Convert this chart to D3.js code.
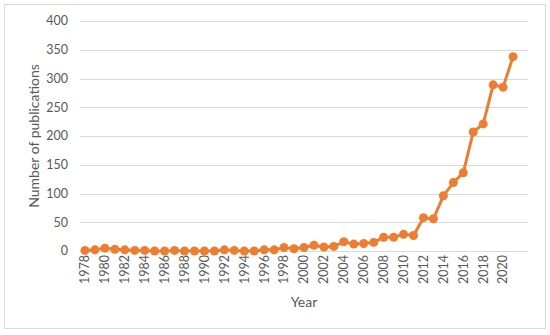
<!DOCTYPE html>
<html><head><meta charset="utf-8">
<script src="https://cdn.jsdelivr.net/npm/d3@7"></script>
<style>body{margin:0;background:#fff}svg{display:block}</style>
</head><body>
<script>
const years = d3.range(1978, 2023);
const values = [1,2,5,3,2,1,1,0,0,1,0,0,0,0,2,1,0,0,2,2,6,4,6,10,7,8,16,12,13,15,24,24,29,27,58,56,96,119,136,207,221,289,285,338,null];
const yTicks = [0,50,100,150,200,250,300,350,400];
const xLabelYears = years.filter(y => (y - 1978) % 2 === 0 && y <= 2020);

(function(){
const W = 550, H = 335;
const svg = d3.select("body").append("svg").attr("width", W).attr("height", H);
svg.append("rect").attr("x",4.5).attr("y",4.5).attr("width",541).attr("height",324)
  .attr("fill","#fff").attr("stroke","#d9d9d9");

const pLeft = 80, pRight = 528, pTop = 21, pBottom = 251;
const x = d3.scaleBand().domain(years).range([pLeft, pRight]);
const y = d3.scaleLinear().domain([0,400]).range([pBottom, pTop]);
const font = "Lato, 'Open Sans', sans-serif";

svg.append("g").selectAll("line").data(yTicks).join("line")
  .attr("x1", pLeft).attr("x2", pRight)
  .attr("y1", d => Math.round(y(d))+0.5).attr("y2", d => Math.round(y(d))+0.5)
  .attr("stroke","#d9d9d9").attr("stroke-width",1);

svg.append("g").selectAll("text").data(yTicks).join("text")
  .attr("x", 68).attr("y", d => y(d)).attr("dy","0.35em")
  .attr("text-anchor","end").attr("font-family",font).attr("font-size",12.5).attr("fill","#595959")
  .text(d => d);

svg.append("g").selectAll("text").data(xLabelYears).join("text")
  .attr("transform", d => `translate(${x(d)+x.bandwidth()/2},255) rotate(-90)`)
  .attr("dy","0.35em").attr("text-anchor","end")
  .attr("font-family",font).attr("font-size",12.5).attr("fill","#595959")
  .text(d => d);

svg.append("text").attr("x", 304).attr("y", 307).attr("text-anchor","middle")
  .attr("font-family",font).attr("font-size",14).attr("fill","#595959").text("Year");
svg.append("text").attr("transform",`translate(39,136) rotate(-90)`).attr("text-anchor","middle")
  .attr("font-family",font).attr("font-size",14).attr("fill","#595959").text("Number of publications");

const data = years.map((yr,i)=>({yr, v: values[i]})).filter(d => d.v !== null);
const line = d3.line().x(d => x(d.yr)+x.bandwidth()/2).y(d => y(d.v));
svg.append("path").datum(data).attr("d", line).attr("fill","none")
  .attr("stroke","#ED7D31").attr("stroke-width",3).attr("stroke-linejoin","round");
svg.append("g").selectAll("circle").data(data).join("circle")
  .attr("cx", d => x(d.yr)+x.bandwidth()/2).attr("cy", d => y(d.v)).attr("r",4.5)
  .attr("fill","#ED7D31");
})();
</script>
</body></html>
